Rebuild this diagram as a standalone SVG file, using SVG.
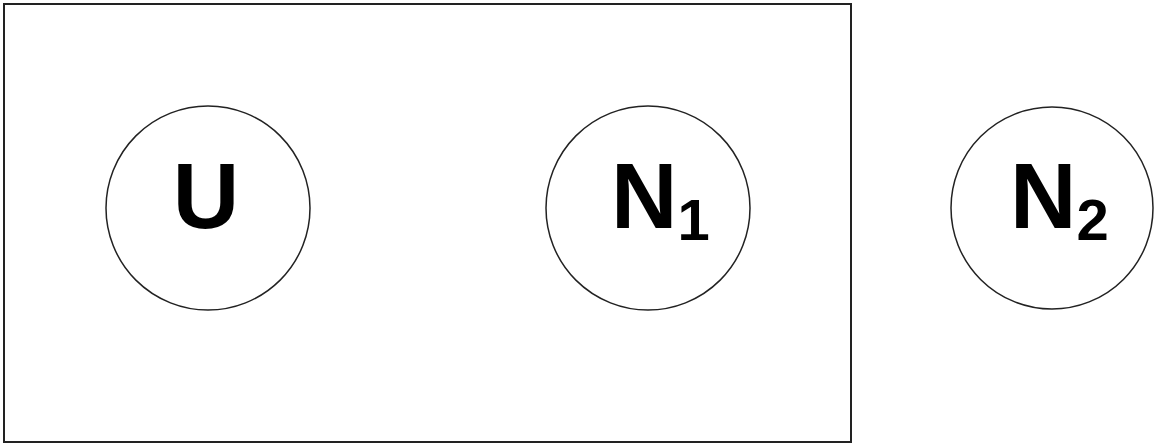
<svg xmlns="http://www.w3.org/2000/svg" width="1160" height="446" viewBox="0 0 1160 446">
<style>
.frame{fill:#fff;stroke:#222;stroke-width:2}
.node{fill:#fff;stroke:#222;stroke-width:1.5}
.lbl{font-family:"Liberation Sans",Arial,sans-serif;font-weight:bold;font-size:92px;fill:#000}
</style>
<rect width="1160" height="446" fill="#fff"/>
<rect id="region" class="frame" x="4" y="4" width="847" height="438"/>
<g id="U"><circle class="node" cx="208" cy="208" r="102"/><text class="lbl" x="206" y="228" text-anchor="middle">U</text></g>
<g id="N1"><circle class="node" cx="648" cy="208" r="102"/><text class="lbl" x="611" y="228">N<tspan font-size="58" dy="12">1</tspan></text></g>
<g id="N2"><circle class="node" cx="1052" cy="208" r="101"/><text class="lbl" x="1010" y="228">N<tspan font-size="58" dy="12">2</tspan></text></g>
<g id="connectors"></g>
</svg>
